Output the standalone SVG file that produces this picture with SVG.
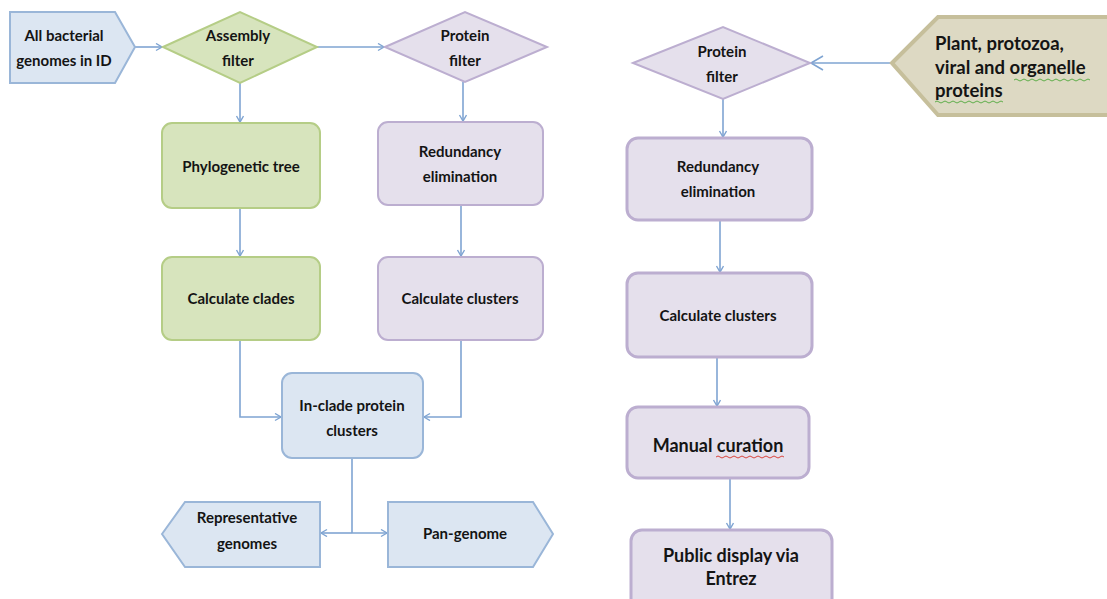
<svg xmlns="http://www.w3.org/2000/svg" width="1107" height="599" viewBox="0 0 1107 599">
<style>
.blue{fill:#dce6f2;stroke:#9ab6d8;stroke-width:2}
.green{fill:#d7e4bd;stroke:#b5cd86;stroke-width:2}
.purple{fill:#e5e0ec;stroke:#bcaed0;stroke-width:2}
.purple3{fill:#e5e0ec;stroke:#bcaed0;stroke-width:3}
.tan{fill:#ddd9c3;stroke:#c6bf9b;stroke-width:4}
.t{font-family:Lato,"Liberation Sans",sans-serif;font-weight:700;font-size:15px;fill:#141414;text-anchor:middle}
.tl{font-family:Lato,"Liberation Sans",sans-serif;font-weight:700;font-size:18px;fill:#141414;text-anchor:middle}
.tp{font-family:Lato,"Liberation Sans",sans-serif;font-weight:700;font-size:18.5px;fill:#141414}
.c{fill:none;stroke:#7fa4d2;stroke-width:1.6}
.sq{fill:none;stroke-width:1}
</style>
<defs>
<marker id="a" markerUnits="userSpaceOnUse" markerWidth="10" markerHeight="10" refX="7" refY="4" orient="auto">
<path d="M1,0.5 L7,4 L1,7.5" fill="none" stroke="#7fa4d2" stroke-width="1.4"/>
</marker>
<marker id="ab" markerUnits="userSpaceOnUse" markerWidth="16" markerHeight="18" refX="13" refY="8" orient="auto">
<path d="M1,1 L13,8 L1,15" fill="none" stroke="#7fa4d2" stroke-width="1.6"/>
</marker>
</defs>

<g id="connectors">
<path class="c" d="M135,47 H162" marker-end="url(#a)"/>
<path class="c" d="M317,47 H384" marker-end="url(#a)"/>
<path class="c" d="M240,83 V122" marker-end="url(#a)"/>
<path class="c" d="M463,82 V121" marker-end="url(#a)"/>
<path class="c" d="M240,208 V256" marker-end="url(#a)"/>
<path class="c" d="M461,205 V256" marker-end="url(#a)"/>
<path class="c" d="M240,340 V417 H281" marker-end="url(#a)"/>
<path class="c" d="M461,340 V417 H424" marker-end="url(#a)"/>
<path class="c" d="M352,458 V533"/>
<path class="c" d="M352,533 H321" marker-end="url(#a)"/>
<path class="c" d="M352,533 H387" marker-end="url(#a)"/>
<path class="c" d="M892,63 H811" marker-end="url(#ab)"/>
<path class="c" d="M723,99 V137" marker-end="url(#a)"/>
<path class="c" d="M720,220 V272" marker-end="url(#a)"/>
<path class="c" d="M717,357 V406" marker-end="url(#a)"/>
<path class="c" d="M730,478 V529" marker-end="url(#a)"/>
</g>

<g id="all-bacterial">
<path class="blue" d="M10,12 H115 L135,47 L115,83 H10 Z"/>
<text class="t" x="64" y="41">All bacterial</text>
<text class="t" x="64" y="66">genomes in ID</text>
</g>

<g id="assembly-filter">
<path class="green" d="M163,47 L240,12 L317,47 L240,83 Z"/>
<text class="t" x="238" y="41">Assembly</text>
<text class="t" x="238" y="66">filter</text>
</g>

<g id="protein-filter-left">
<path class="purple" d="M385,47 L465,12 L547,47 L465,82 Z"/>
<text class="t" x="465" y="41">Protein</text>
<text class="t" x="465" y="66">filter</text>
</g>

<g id="phylogenetic-tree">
<rect class="green" x="162" y="123" width="158" height="85" rx="10"/>
<text class="t" x="241" y="172">Phylogenetic tree</text>
</g>

<g id="calculate-clades">
<rect class="green" x="162" y="257" width="158" height="83" rx="10"/>
<text class="t" x="241" y="304">Calculate clades</text>
</g>

<g id="redundancy-left">
<rect class="purple" x="378" y="122" width="165" height="83" rx="10"/>
<text class="t" x="460" y="157">Redundancy</text>
<text class="t" x="460" y="182">elimination</text>
</g>

<g id="calculate-clusters-left">
<rect class="purple" x="378" y="257" width="165" height="83" rx="10"/>
<text class="t" x="460" y="304">Calculate clusters</text>
</g>

<g id="in-clade">
<rect class="blue" x="282" y="373" width="141" height="85" rx="10"/>
<text class="t" x="352" y="411">In-clade protein</text>
<text class="t" x="352" y="436">clusters</text>
</g>

<g id="representative-genomes">
<path class="blue" d="M162,534 L185,502 H320 V567 H185 Z"/>
<text class="t" x="247" y="523">Representative</text>
<text class="t" x="247" y="549">genomes</text>
</g>

<g id="pan-genome">
<path class="blue" d="M388,502 H533 L553,534 L533,567 H388 Z"/>
<text class="t" x="465" y="539">Pan-genome</text>
</g>

<g id="plant-proteins">
<path class="tan" d="M892,63 L938,17 H1112 V115 H938 Z"/>
<text class="tp" x="935" y="50">Plant, protozoa,</text>
<text class="tp" x="935" y="74">viral and organelle</text>
<text class="tp" x="935" y="97">proteins</text>
<path class="sq" stroke="#5fae4a" d="M1014,80 q2,-2 4,0 t4,0 t4,0 t4,0 t4,0 t4,0 t4,0 t4,0 t4,0 t4,0 t4,0 t4,0 t4,0 t4,0 t4,0 t4,0 t4,0 t4,0 t4,0"/>
<path class="sq" stroke="#5fae4a" d="M935,102 q2,-2 4,0 t4,0 t4,0 t4,0 t4,0 t4,0 t4,0 t4,0 t4,0 t4,0 t4,0 t4,0 t4,0 t4,0 t4,0 t4,0 t4,0"/>
</g>

<g id="protein-filter-right">
<path class="purple" d="M633,63 L723,27 L810,63 L723,99 Z"/>
<text class="t" x="722" y="57">Protein</text>
<text class="t" x="722" y="82">filter</text>
</g>

<g id="redundancy-right">
<rect class="purple3" x="627" y="138" width="185" height="82" rx="11"/>
<text class="t" x="718" y="172">Redundancy</text>
<text class="t" x="718" y="197">elimination</text>
</g>

<g id="calculate-clusters-right">
<rect class="purple3" x="627" y="273" width="185" height="84" rx="11"/>
<text class="t" x="718" y="321">Calculate clusters</text>
</g>

<g id="manual-curation">
<rect class="purple3" x="627" y="407" width="182" height="71" rx="11"/>
<text class="tl" x="718" y="452">Manual curation</text>
<path class="sq" stroke="#d9443c" d="M716,457 q2,-2 4,0 t4,0 t4,0 t4,0 t4,0 t4,0 t4,0 t4,0 t4,0 t4,0 t4,0 t4,0 t4,0 t4,0 t4,0 t4,0 t4,0"/>
</g>

<g id="public-display">
<rect class="purple3" x="631" y="530" width="201" height="80" rx="11"/>
<text class="tl" x="731" y="562">Public display via</text>
<text class="tl" x="731" y="585">Entrez</text>
</g>
</svg>
